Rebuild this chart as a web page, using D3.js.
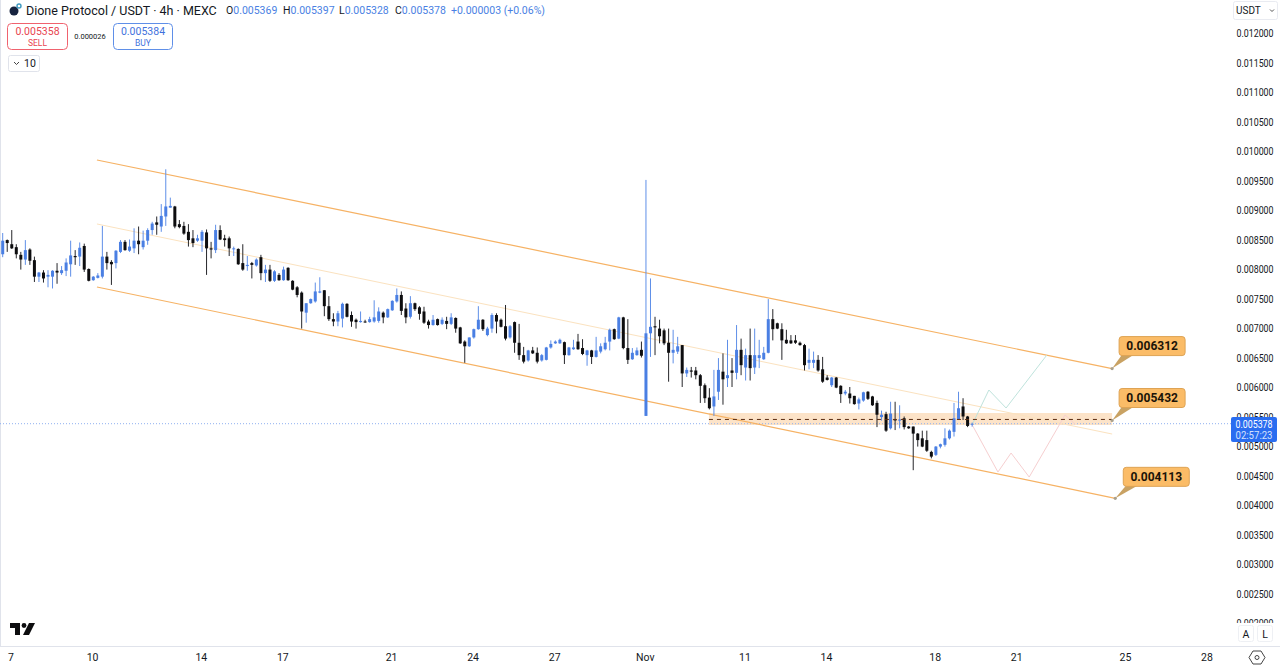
<!DOCTYPE html>
<html>
<head>
<meta charset="utf-8">
<script src="https://d3js.org/d3.v7.min.js"></script>
<style>
  html, body { margin: 0; padding: 0; background: #fff; overflow: hidden; }
  text { font-family: Roboto, "Noto Sans", sans-serif; }
</style>
</head>
<body>
<div id="viz"></div>
<script>
// prices are in millionths of USDT, bars are 4h
var highs = [8610,8500,8660,8420,8290,8490,8350,8210,7950,7980,7980,7980,8100,8050,8180,8480,8320,8450,8430,8010,
  7880,7930,8730,8290,8150,8320,8490,8490,8500,8690,8720,8650,8690,8800,8890,9100,9690,9210,9070,8830,
  8800,8760,8660,8580,8660,8670,8460,8750,8740,8580,8550,8380,8350,8420,8220,8120,8180,8240,8070,8070,
  7980,7930,8040,8030,7810,7710,7620,7420,7500,7770,7860,7640,7540,7250,7290,7430,7420,7280,7160,7280,
  7140,7190,7470,7350,7280,7330,7470,7670,7620,7420,7540,7430,7370,7360,7140,7220,7160,7180,7190,7250,
  7180,7020,6790,6840,6990,7370,7150,7020,7250,7250,7160,7390,7050,7110,7070,6680,6630,6680,6670,6560,
  6680,6790,6790,6820,6770,6680,6800,6900,6810,6630,6630,6850,6740,6850,6990,6990,7190,7190,7150,6660,
  6670,6770,9510,7840,7190,7140,6990,6990,6970,6850,6710,6330,6340,6340,6220,6060,5980,6290,6490,6570,
  6800,6490,7050,6820,6650,6990,6990,6800,6680,7490,7320,7090,7080,6970,6880,6880,6770,6730,6650,6600,
  6540,6510,6200,6170,6170,6030,5950,6000,5850,5820,5920,5930,5850,5770,5600,5580,5750,5750,5690,5500,
  5340,5330,5220,5260,5260,4920,5000,5040,5300,5280,5730,5920,5810,5510,5397];
var lows = [8200,8290,8340,8180,7990,8070,8070,7780,7780,7770,7690,7670,7750,7900,7880,7870,8070,8050,7950,7790,
  7800,7840,7840,7990,7730,8010,8270,8310,8290,8270,8250,8330,8410,8580,8580,8630,8730,9040,8690,8690,
  8580,8380,8370,8460,8290,7900,8180,8270,8490,8380,8220,8220,8070,7970,7970,7840,8040,7810,7780,7780,
  7780,7800,7800,7800,7640,7520,6990,7090,7410,7430,7590,7200,7120,7030,7030,7010,7180,7020,6990,7090,
  7090,7090,7090,7090,7080,7170,7290,7430,7220,7080,7160,7290,7140,7070,6990,7040,7040,7050,6980,7050,
  6920,6730,6410,6680,6820,6970,6950,6860,6920,6910,7010,6790,6820,6580,6460,6400,6430,6560,6400,6430,
  6450,6650,6730,6730,6390,6530,6630,6630,6540,6360,6390,6500,6570,6620,6620,6800,6810,6640,6390,6460,
  6530,6500,5510,6510,6540,6740,6710,6090,6400,6560,6000,6170,6160,6130,5730,5730,5620,5510,5780,5700,
  6000,6000,6130,6200,6110,6110,6220,6320,6460,6570,6790,6980,6460,6730,6730,6730,6700,6280,6300,6320,
  6260,6070,6110,6000,5980,5730,5860,5720,5700,5620,5750,5780,5680,5320,5430,5240,5280,5270,5300,5280,
  5290,4590,4990,4980,4900,4790,4830,4960,4990,5110,5160,5440,5440,5320,5328];
var opens = [8250,8490,8420,8370,8240,8160,8330,8150,7870,7940,7870,7870,7970,7930,7970,8080,8220,8210,8390,8000,
  7810,7850,7870,8210,8120,8100,8290,8460,8310,8350,8480,8370,8480,8660,8790,8720,8890,9040,9060,8760,
  8730,8630,8520,8480,8480,8620,8350,8320,8660,8520,8520,8340,8340,8100,8050,8100,8060,8200,7930,7990,
  7800,7900,7810,8020,7800,7690,7600,7260,7420,7450,7600,7640,7370,7150,7110,7160,7410,7220,7140,7100,
  7110,7100,7110,7120,7260,7180,7300,7450,7560,7330,7190,7420,7350,7280,7110,7050,7150,7070,7120,7070,
  7170,7010,6770,6690,6840,6980,7140,6880,6990,7220,7140,7030,6840,7100,6750,6540,6450,6620,6580,6450,
  6460,6670,6740,6740,6760,6540,6640,6770,6660,6540,6620,6510,6600,6640,6770,6980,6820,7180,6660,6470,
  6540,6630,5510,6910,7030,6990,6960,6750,6580,6600,6710,6230,6280,6280,6200,6030,5820,5670,5920,6260,
  6150,6280,6240,6630,6330,6540,6330,6490,6470,6580,7150,7080,6980,6800,6790,6790,6750,6710,6410,6410,
  6460,6300,6160,6030,6160,6020,5890,5890,5850,5720,5770,5920,5840,5730,5490,5540,5300,5450,5430,5470,
  5330,5330,5210,5130,5100,4900,4850,4990,5020,5130,5240,5450,5670,5500,5369];
var closes = [8480,8440,8350,8250,8160,8320,8140,7870,7940,7840,7900,7970,7940,7980,8110,8230,8200,8360,7990,7800,
  7870,7890,8210,8100,8080,8310,8460,8320,8380,8480,8420,8480,8660,8770,8750,8900,9060,9070,8720,8710,
  8600,8490,8440,8520,8630,8350,8330,8660,8500,8490,8350,8350,8080,7990,8070,8070,8160,7930,7990,7800,
  7960,7810,7990,7810,7650,7560,7280,7420,7490,7620,7620,7370,7150,7110,7250,7410,7190,7110,7100,7120,
  7100,7150,7180,7280,7180,7320,7460,7560,7290,7180,7420,7320,7240,7090,7050,7140,7050,7140,7070,7180,
  6990,6740,6690,6840,6980,7140,6980,6990,7220,7110,7020,6820,7030,6750,6540,6430,6620,6570,6430,6540,
  6670,6730,6770,6800,6540,6670,6670,6640,6560,6620,6510,6620,6690,6750,6970,6810,7180,6660,6460,6580,
  6620,6530,6910,7020,7010,6860,6740,6580,6630,6690,6230,6290,6260,6200,6020,5810,5640,5840,6290,6130,
  6200,6240,6630,6370,6540,6320,6540,6540,6580,7150,6980,6990,6790,6740,6740,6750,6710,6370,6460,6460,
  6280,6090,6120,6160,5990,5880,5920,5810,5710,5790,5910,5800,5690,5530,5530,5260,5550,5440,5450,5320,
  5300,5210,5100,4990,4920,4820,4990,5030,5130,5260,5470,5640,5500,5340,5378];

var dayLabels = ["7","10","14","17","21","24","27","Nov","11","14","18","21","25","28"];
var dayBars = [2,20,44,62,86,104,122,142,164,182,206,224,248,266];
var priceTicks = d3.range(2000, 12001, 500);

// channel lines as [bar, price] ends
var upperLine = [[20.8,9847],[244.9,6312]];
var middleLine = [[20.8,8763],[244.9,5203]];
var lowerLine = [[20.8,7695],[245.6,4113]];
var bullPath = [[214,5360],[217.7,5949],[221.5,5644],[230.5,6542]];
var bearPath = [[214,5360],[219.7,4559],[222.6,4881],[226.6,4474],[234.5,5525],[236.7,5373]];
var zoneBars = [155.9,244.9];
var zonePrices = [5559,5356];
var zoneLevel = 5450;
var lastPrice = 5378;
var callouts = [
  {text:"0.006312", bar:244.9, price:6312, dx:7, dy:-32},
  {text:"0.005432", bar:244.9, price:5432, dx:7, dy:-32},
  {text:"0.004113", bar:245.6, price:4113, dx:8, dy:-31}
];

var width = 1280, height = 668;
var blue = "#4a7fe3", black = "#0d0d0f";

var svg = d3.select("#viz").append("svg").attr("width", width).attr("height", height)
  .style("display", "block");

var x = d3.scaleLinear().domain([0, 266]).range([2.7, 2.7 + 266 * 4.53]);
var y = d3.scaleLinear().domain([12000, 2000]).range([33, 623]);
var line = d3.line().x(function(d) { return x(d[0]); }).y(function(d) { return y(d[1]); });

// left edge and time axis rule
svg.append("line").attr("x1", 0.5).attr("x2", 0.5).attr("y1", 0).attr("y2", 646).style("stroke", "#e0e3eb");
svg.append("line").attr("x1", 0).attr("x2", width).attr("y1", 646.5).attr("y2", 646.5).style("stroke", "#e0e3eb");

// price axis
var yAxis = d3.axisRight(y).tickValues(priceTicks).tickSize(0).tickPadding(0)
  .tickFormat(function(d) { return d3.format(".6f")(d / 1e6); });
var yg = svg.append("g").attr("transform", "translate(1236.5,0.5)").call(yAxis);
yg.select(".domain").remove();
yg.selectAll("text").style("font-size", "10.5px").style("fill", "#131722")
  .attr("textLength", 37).attr("lengthAdjust", "spacingAndGlyphs");

// time axis
var xAxis = d3.axisBottom(x).tickValues(dayBars).tickSize(0).tickPadding(8)
  .tickFormat(function(d, i) { return dayLabels[i]; });
var xg = svg.append("g").attr("transform", "translate(-1.2,646)").call(xAxis);
xg.select(".domain").remove();
xg.selectAll("text").style("font-size", "10.5px").style("fill", "#131722");

// orange zone behind the candles
svg.append("rect").attr("x", x(zoneBars[0])).attr("width", x(zoneBars[1]) - x(zoneBars[0]))
  .attr("y", y(zonePrices[0])).attr("height", y(zonePrices[1]) - y(zonePrices[0]))
  .style("fill", "#fce3c8");

// last price line
svg.append("line").attr("x1", 0).attr("x2", 1231).attr("y1", y(lastPrice)).attr("y2", y(lastPrice))
  .style("stroke", "#8fb0f0").style("stroke-width", 1).style("stroke-dasharray", "1,2");

// channel
svg.append("path").attr("d", line(upperLine)).style("fill", "none").style("stroke", "#f6b264").style("stroke-width", 1.2);
svg.append("path").attr("d", line(lowerLine)).style("fill", "none").style("stroke", "#f6b264").style("stroke-width", 1.2);
svg.append("path").attr("d", line(middleLine)).style("fill", "none").style("stroke", "#fbe2bf").style("stroke-width", 1);

// forecast paths
svg.append("path").attr("d", line(bullPath)).style("fill", "none").style("stroke", "#bfe3dc").style("stroke-width", 1);
svg.append("path").attr("d", line(bearPath)).style("fill", "none").style("stroke", "#f6cfd0").style("stroke-width", 1);

// candles
var candles = svg.append("g").selectAll("g").data(d3.range(highs.length)).enter().append("g");
candles.append("line")
  .attr("x1", function(i) { return x(i); }).attr("x2", function(i) { return x(i); })
  .attr("y1", function(i) { return y(highs[i]); }).attr("y2", function(i) { return y(lows[i]); })
  .style("stroke", function(i) { return closes[i] >= opens[i] ? "#5f8fe8" : "#26262a"; })
  .style("stroke-width", 1);
candles.append("rect")
  .attr("x", function(i) { return x(i) - 1.5; }).attr("width", 3)
  .attr("y", function(i) { return y(Math.max(opens[i], closes[i])); })
  .attr("height", function(i) { return Math.max(1, Math.abs(y(opens[i]) - y(closes[i]))); })
  .style("fill", function(i) { return closes[i] >= opens[i] ? blue : black; });

// dashed level inside the zone
svg.append("line").attr("x1", x(zoneBars[0])).attr("x2", x(zoneBars[1]))
  .attr("y1", y(zoneLevel)).attr("y2", y(zoneLevel))
  .style("stroke", "#5a2c12").style("stroke-width", 1).style("stroke-dasharray", "4,4");

// callouts
callouts.forEach(function(c) {
  var ax = x(c.bar), ay = y(c.price);
  var g = svg.append("g").attr("transform", "translate(" + ax + "," + ay + ")");
  g.append("path").attr("d", "M0,0L" + (c.dx + 3) + "," + (c.dy + 18) + "L" + (c.dx + 15) + "," + (c.dy + 18) + "Z")
    .style("fill", "#c9a263");
  g.append("circle").attr("r", 1.6).style("fill", "#a9a08d");
  g.append("rect").attr("x", c.dx).attr("y", c.dy).attr("width", 66).attr("height", 19).attr("rx", 3)
    .style("fill", "#fbbc67").style("stroke", "#dea354");
  g.append("text").attr("x", c.dx + 33).attr("y", c.dy + 13.5).attr("text-anchor", "middle")
    .style("font-size", "12px").style("font-weight", "700").style("fill", "#1b1408").text(c.text);
});

// last price tag on the axis
svg.append("rect").attr("x", 1231).attr("y", 417).attr("width", 46).attr("height", 25).attr("rx", 2).style("fill", "#2a6df0");
svg.append("text").attr("x", 1254).attr("y", 427.5).attr("text-anchor", "middle").style("font-size", "10px").style("fill", "#fff")
  .attr("textLength", 37).attr("lengthAdjust", "spacingAndGlyphs").text("0.005378");
svg.append("text").attr("x", 1254).attr("y", 439).attr("text-anchor", "middle").style("font-size", "10px").style("fill", "#d5e2fc")
  .attr("textLength", 37).attr("lengthAdjust", "spacingAndGlyphs").text("02:57:23");

// legend line
svg.append("circle").attr("cx", 14).attr("cy", 11).attr("r", 4.5).style("fill", "#16233f");
svg.append("circle").attr("cx", 19).attr("cy", 6).attr("r", 2).style("fill", "#fff").style("stroke", "#3f9ac0").style("stroke-width", 1.4);
svg.append("text").attr("x", 26).attr("y", 15).style("font-size", "12.5px").style("fill", "#131722")
  .text("Dione Protocol / USDT · 4h · MEXC");

var ohlcLabels = ["O", "H", "L", "C"];
var ohlcValues = ["0.005369", "0.005397", "0.005328", "0.005378"];
var ohlcX = [226, 283, 339, 395];
ohlcLabels.forEach(function(l, i) {
  var t = svg.append("text").attr("x", ohlcX[i]).attr("y", 14).style("font-size", "10.5px").style("fill", "#131722");
  t.append("tspan").text(l);
  t.append("tspan").style("fill", "#4a7fe3").text(ohlcValues[i]);
});
svg.append("text").attr("x", 451).attr("y", 14).style("font-size", "10.5px").style("fill", "#4a7fe3").text("+0.000003 (+0.06%)");

// buy and sell boxes
svg.append("rect").attr("x", 7.5).attr("y", 23.5).attr("width", 60).attr("height", 26).attr("rx", 4).style("fill", "#fff").style("stroke", "#f0626e");
svg.append("text").attr("x", 37.5).attr("y", 35).attr("text-anchor", "middle").style("font-size", "10.5px").style("fill", "#e8444f").text("0.005358");
svg.append("text").attr("x", 37.5).attr("y", 46).attr("text-anchor", "middle").style("font-size", "8.5px").style("fill", "#e8444f").text("SELL");
svg.append("text").attr("x", 90).attr("y", 39).attr("text-anchor", "middle").style("font-size", "7.5px").style("fill", "#131722").text("0.000026");
svg.append("rect").attr("x", 113.5).attr("y", 23.5).attr("width", 59).attr("height", 26).attr("rx", 4).style("fill", "#fff").style("stroke", "#5f8fe8");
svg.append("text").attr("x", 143).attr("y", 35).attr("text-anchor", "middle").style("font-size", "10.5px").style("fill", "#3f72dd").text("0.005384");
svg.append("text").attr("x", 143).attr("y", 46).attr("text-anchor", "middle").style("font-size", "8.5px").style("fill", "#3f72dd").text("BUY");

// collapsed studies button
svg.append("rect").attr("x", 8.5).attr("y", 55.5).attr("width", 31).attr("height", 16).attr("rx", 2).style("fill", "#fff").style("stroke", "#e0e3eb");
svg.append("path").attr("d", "M14,62l2.5,2.5l2.5,-2.5").style("fill", "none").style("stroke", "#444");
svg.append("text").attr("x", 24).attr("y", 67).style("font-size", "10.5px").style("fill", "#131722").text("10");

// currency button
svg.append("rect").attr("x", 1233.5).attr("y", 1.5).attr("width", 44).attr("height", 18).attr("rx", 2).style("fill", "#fff").style("stroke", "#e9ebf1");
svg.append("text").attr("x", 1236).attr("y", 14).style("font-size", "10px").style("fill", "#131722").text("USDT");
svg.append("path").attr("d", "M1270,9.5l2,2l2,-2").style("fill", "none").style("stroke", "#555");

// watermark
svg.append("path").attr("d", "M10,623H20V635H15V628H10Z").style("fill", black);
svg.append("circle").attr("cx", 24).attr("cy", 625.5).attr("r", 2.4).style("fill", black);
svg.append("path").attr("d", "M29,623H35L29,635H23Z").style("fill", black);

// auto and log buttons hide the lowest tick
svg.append("rect").attr("x", 1232).attr("y", 623).attr("width", 48).attr("height", 23).style("fill", "#fff");
[["A", 1246], ["L", 1265]].forEach(function(b) {
  svg.append("rect").attr("x", b[1] - 7.5).attr("y", 625.5).attr("width", 15).attr("height", 16).attr("rx", 2)
    .style("fill", "#fff").style("stroke", "#eef0f4");
  svg.append("text").attr("x", b[1]).attr("y", 637.5).attr("text-anchor", "middle").style("font-size", "10.5px")
    .style("fill", "#131722").text(b[0]);
});

// settings gear
svg.append("path").attr("d", "M1253,651H1261L1265,657.5L1261,664H1253L1249,657.5Z").style("fill", "none").style("stroke", "#444").style("stroke-width", 1);
svg.append("circle").attr("cx", 1257).attr("cy", 657.5).attr("r", 2).style("fill", "none").style("stroke", "#444");
</script>
</body>
</html>
